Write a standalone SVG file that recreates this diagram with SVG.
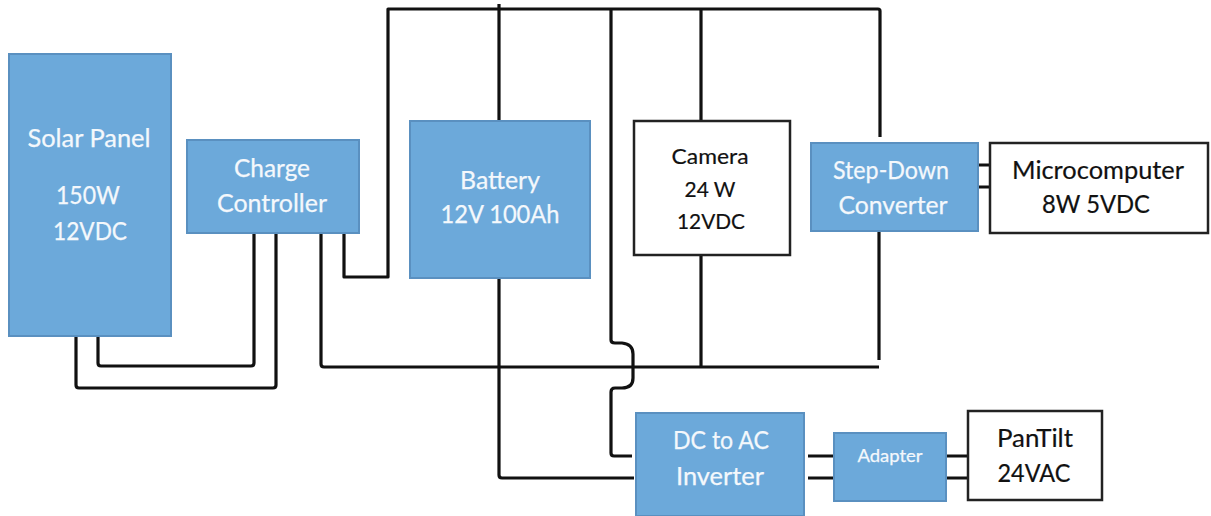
<svg xmlns="http://www.w3.org/2000/svg" width="1211" height="516" viewBox="0 0 1211 516">
<style>
.b{fill:#6ca9da;stroke:#5a90c0;stroke-width:2}
.w{fill:#fff;stroke:#222;stroke-width:2.5}
text{font-family:Lato,"Open Sans","Liberation Sans",sans-serif;font-size:25px;text-anchor:middle}
.l{fill:#f4f8fc;stroke:#f4f8fc;stroke-width:.25}
.k{fill:#111;stroke:#111;stroke-width:.2}
.s{font-size:21.5px}
.t{font-size:17.5px}
#connectors path{fill:none;stroke:#111;stroke-width:3.2;stroke-linejoin:round}
</style>
<rect width="1211" height="516" fill="#fff"/>
<g id="connectors">
<path d="M344 233V277H388V9H878Q880 9 880 11V137"/>
<path d="M499 4V121"/>
<path d="M611 9V340Q611 343 615 343H622Q633 344 633 354V378Q633 388 622 388H615Q611 388 611 392V453Q611 456 614 456H632"/>
<path d="M701 9V121"/>
<path d="M701 255V367"/>
<path d="M879 232V360"/>
<path d="M321 233V364Q321 367 324 367H879"/>
<path d="M499 278V475Q499 478 502 478H634"/>
<path d="M98 332V363Q98 366 101 366H251Q254 366 254 363V233"/>
<path d="M76 336V385Q76 388 79 388H273Q276 388 276 385V233"/>
<path d="M978 165H990M978 187H990"/>
<path d="M808 456H834M808 478H834"/>
<path d="M946 456H968M946 478H968"/>
</g>
<g id="solar"><rect class="b" x="9" y="54" width="162" height="282"/><text class="l" x="89" y="147" textLength="123" lengthAdjust="spacingAndGlyphs">Solar Panel</text><text class="l" x="88" y="204" textLength="64" lengthAdjust="spacingAndGlyphs">150W</text><text class="l" x="90" y="240" textLength="74" lengthAdjust="spacingAndGlyphs">12VDC</text></g>
<g id="charge"><rect class="b" x="187" y="140" width="172" height="93"/><text class="l" x="272" y="177" textLength="76" lengthAdjust="spacingAndGlyphs">Charge</text><text class="l" x="272" y="212" textLength="110" lengthAdjust="spacingAndGlyphs">Controller</text></g>
<g id="battery"><rect class="b" x="410" y="121" width="180" height="157"/><text class="l" x="500" y="189" textLength="80" lengthAdjust="spacingAndGlyphs">Battery</text><text class="l" x="500" y="223" textLength="119" lengthAdjust="spacingAndGlyphs">12V 100Ah</text></g>
<g id="camera"><rect class="w" x="634" y="121" width="156" height="134"/><text class="k s" x="710" y="164" textLength="77" lengthAdjust="spacingAndGlyphs">Camera</text><text class="k s" x="710" y="197" textLength="51" lengthAdjust="spacingAndGlyphs">24 W</text><text class="k s" x="711" y="229" textLength="68" lengthAdjust="spacingAndGlyphs">12VDC</text></g>
<g id="stepdown"><rect class="b" x="811" y="143" width="167" height="88"/><text class="l" x="891" y="179" textLength="116" lengthAdjust="spacingAndGlyphs">Step-Down</text><text class="l" x="893" y="214" textLength="109" lengthAdjust="spacingAndGlyphs">Converter</text></g>
<g id="micro"><rect class="w" x="990" y="143" width="218" height="90"/><text class="k" x="1098" y="179" textLength="172" lengthAdjust="spacingAndGlyphs">Microcomputer</text><text class="k" x="1096" y="213" textLength="108" lengthAdjust="spacingAndGlyphs">8W 5VDC</text></g>
<g id="inverter"><rect class="b" x="636" y="413" width="168" height="103"/><text class="l" x="721" y="449" textLength="96" lengthAdjust="spacingAndGlyphs">DC to AC</text><text class="l" x="720" y="485" textLength="88" lengthAdjust="spacingAndGlyphs">Inverter</text></g>
<g id="adapter"><rect class="b" x="834" y="433" width="112" height="68"/><text class="l t" x="890" y="462" textLength="65" lengthAdjust="spacingAndGlyphs">Adapter</text></g>
<g id="pantilt"><rect class="w" x="968" y="411" width="134" height="89"/><text class="k" x="1035" y="447" textLength="76" lengthAdjust="spacingAndGlyphs">PanTilt</text><text class="k" x="1034" y="482" textLength="73" lengthAdjust="spacingAndGlyphs">24VAC</text></g>
</svg>
